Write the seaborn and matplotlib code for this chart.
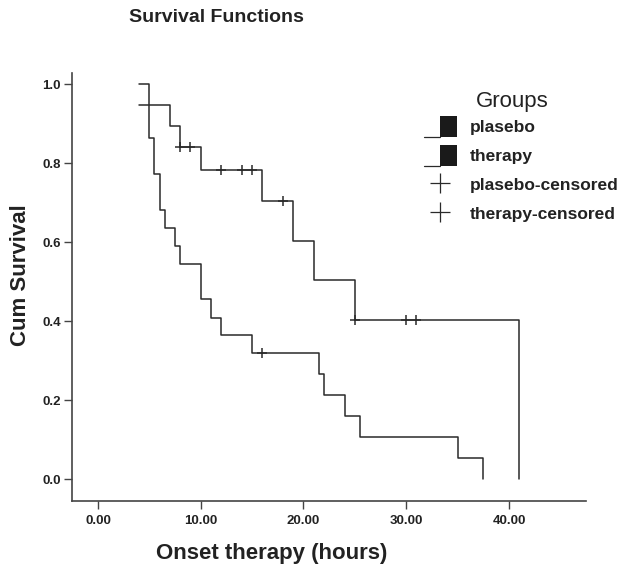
import numpy as np
import pandas as pd
import matplotlib
matplotlib.use('Agg')
import matplotlib.pyplot as plt
import seaborn as sns
from matplotlib.lines import Line2D
from matplotlib.patches import Rectangle
from matplotlib.legend_handler import HandlerBase

# placebo curve (step points, survival after each drop)
placebo_time = [4, 5, 5.5, 6, 6.5, 7.5, 8, 10, 11, 12, 15, 21.5, 22, 24, 25.5, 35, 37.5]
placebo_surv = [1.0, .864, .773, .682, .636, .591, .545, .455, .409, .364, .318,
                .265, .212, .159, .106, .053, 0.0]
placebo_cens_time = [16]
placebo_cens_surv = [.318]

# therapy curve
therapy_time = [4, 7, 8, 10, 16, 19, 21, 25, 41]
therapy_surv = [.947, .895, .842, .782, .704, .603, .503, .402, 0.0]
therapy_cens_time = [8, 9, 12, 14, 15, 18, 25, 30, 31]
therapy_cens_surv = [.842, .842, .782, .782, .782, .704, .402, .402, .402]

x_ticks = [0, 10, 20, 30, 40]
y_ticks = [0.0, 0.2, 0.4, 0.6, 0.8, 1.0]

sns.set_style('white')
plt.rcParams['font.family'] = ['Liberation Sans', 'DejaVu Sans']

curves = pd.concat([
    pd.DataFrame({'time': placebo_time, 'surv': placebo_surv, 'group': 'plasebo'}),
    pd.DataFrame({'time': therapy_time, 'surv': therapy_surv, 'group': 'therapy'}),
])
cens = pd.concat([
    pd.DataFrame({'time': placebo_cens_time, 'surv': placebo_cens_surv, 'group': 'plasebo'}),
    pd.DataFrame({'time': therapy_cens_time, 'surv': therapy_cens_surv, 'group': 'therapy'}),
])

line_col = '#2a2a2a'

fig = plt.figure(figsize=(6.2, 5.68), dpi=100)
ax = fig.add_axes([72 / 620, 1 - 501 / 568, 514 / 620, 428 / 568])

for g, d in curves.groupby('group'):
    sns.lineplot(data=d, x='time', y='surv', ax=ax, estimator=None, sort=False,
                 drawstyle='steps-post', color=line_col, linewidth=1.1, legend=False)
sns.scatterplot(data=cens, x='time', y='surv', ax=ax, marker='+', color=line_col,
                s=45, linewidth=1.1, legend=False)

ax.set_xlim(-2.53, 47.5)
ax.set_ylim(-0.0557, 1.0286)
ax.set_xticks(x_ticks)
ax.set_xticklabels([f'{v:.2f}' for v in x_ticks])
ax.set_yticks(y_ticks)
ax.set_yticklabels([f'{v:.1f}' for v in y_ticks])
ax.set_xlabel('')
ax.set_ylabel('')
for s in ['top', 'right']:
    ax.spines[s].set_visible(False)
for s in ['left', 'bottom']:
    ax.spines[s].set_color('#444444')
    ax.spines[s].set_linewidth(1.2)
ax.tick_params(axis='both', which='major', direction='out', length=6, width=1,
               color='#444444', labelsize=9.5, bottom=True, left=True)
ax.tick_params(axis='y', pad=2)
ax.tick_params(axis='x', pad=4)
for lab in ax.get_xticklabels() + ax.get_yticklabels():
    lab.set_fontweight('bold')
    lab.set_color('#222222')


class StepKey(HandlerBase):
    def create_artists(self, legend, orig_handle, xdescent, ydescent, width, height,
                       fontsize, trans):
        x0, y0 = -xdescent, -ydescent
        yb = y0 - 0.1 * height
        ln = Line2D([x0, x0 + 0.5 * width], [yb, yb], color=line_col, lw=0.9,
                    transform=trans)
        box = Rectangle((x0 + 0.5 * width, yb), 0.5 * width, 1.15 * height,
                        facecolor='#1a1a1a', edgecolor='none', transform=trans)
        return [ln, box]


step_h = Rectangle((0, 0), 1, 1)
step_h2 = Rectangle((0, 0), 1, 1)
cross = Line2D([], [], ls='none', marker='+', markersize=15, mew=0.9, color=line_col)
cross2 = Line2D([], [], ls='none', marker='+', markersize=15, mew=0.9, color=line_col)
leg = fig.legend([step_h, step_h2, cross, cross2],
                 ['plasebo', 'therapy', 'plasebo-censored', 'therapy-censored'],
                 handler_map={Rectangle: StepKey()},
                 loc='upper left', bbox_to_anchor=(424 / 620, 1 - 117 / 568),
                 bbox_transform=fig.transFigure, frameon=False, borderpad=0,
                 borderaxespad=0, handlelength=1.9, handleheight=1.2,
                 handletextpad=0.75, labelspacing=0.65,
                 prop={'weight': 'bold', 'size': 12.5})
for t in leg.get_texts():
    t.set_color('#222222')
fig.text(512 / 620, 1 - 102 / 568, 'Groups', ha='center', va='center',
         fontsize=16, color='#222222')

fig.text(216 / 620, 1 - 18 / 568, 'Survival Functions', ha='center', va='center',
         fontsize=14, fontweight='bold', color='#222222')
fig.text(272 / 620, 1 - 553 / 568, 'Onset therapy (hours)', ha='center', va='center',
         fontsize=16, fontweight='bold', color='#222222')
fig.text(21 / 620, 1 - 275 / 568, 'Cum Survival', ha='center', va='center',
         rotation=90, fontsize=16, fontweight='bold', color='#222222')

fig.savefig('out.png', dpi=100)
